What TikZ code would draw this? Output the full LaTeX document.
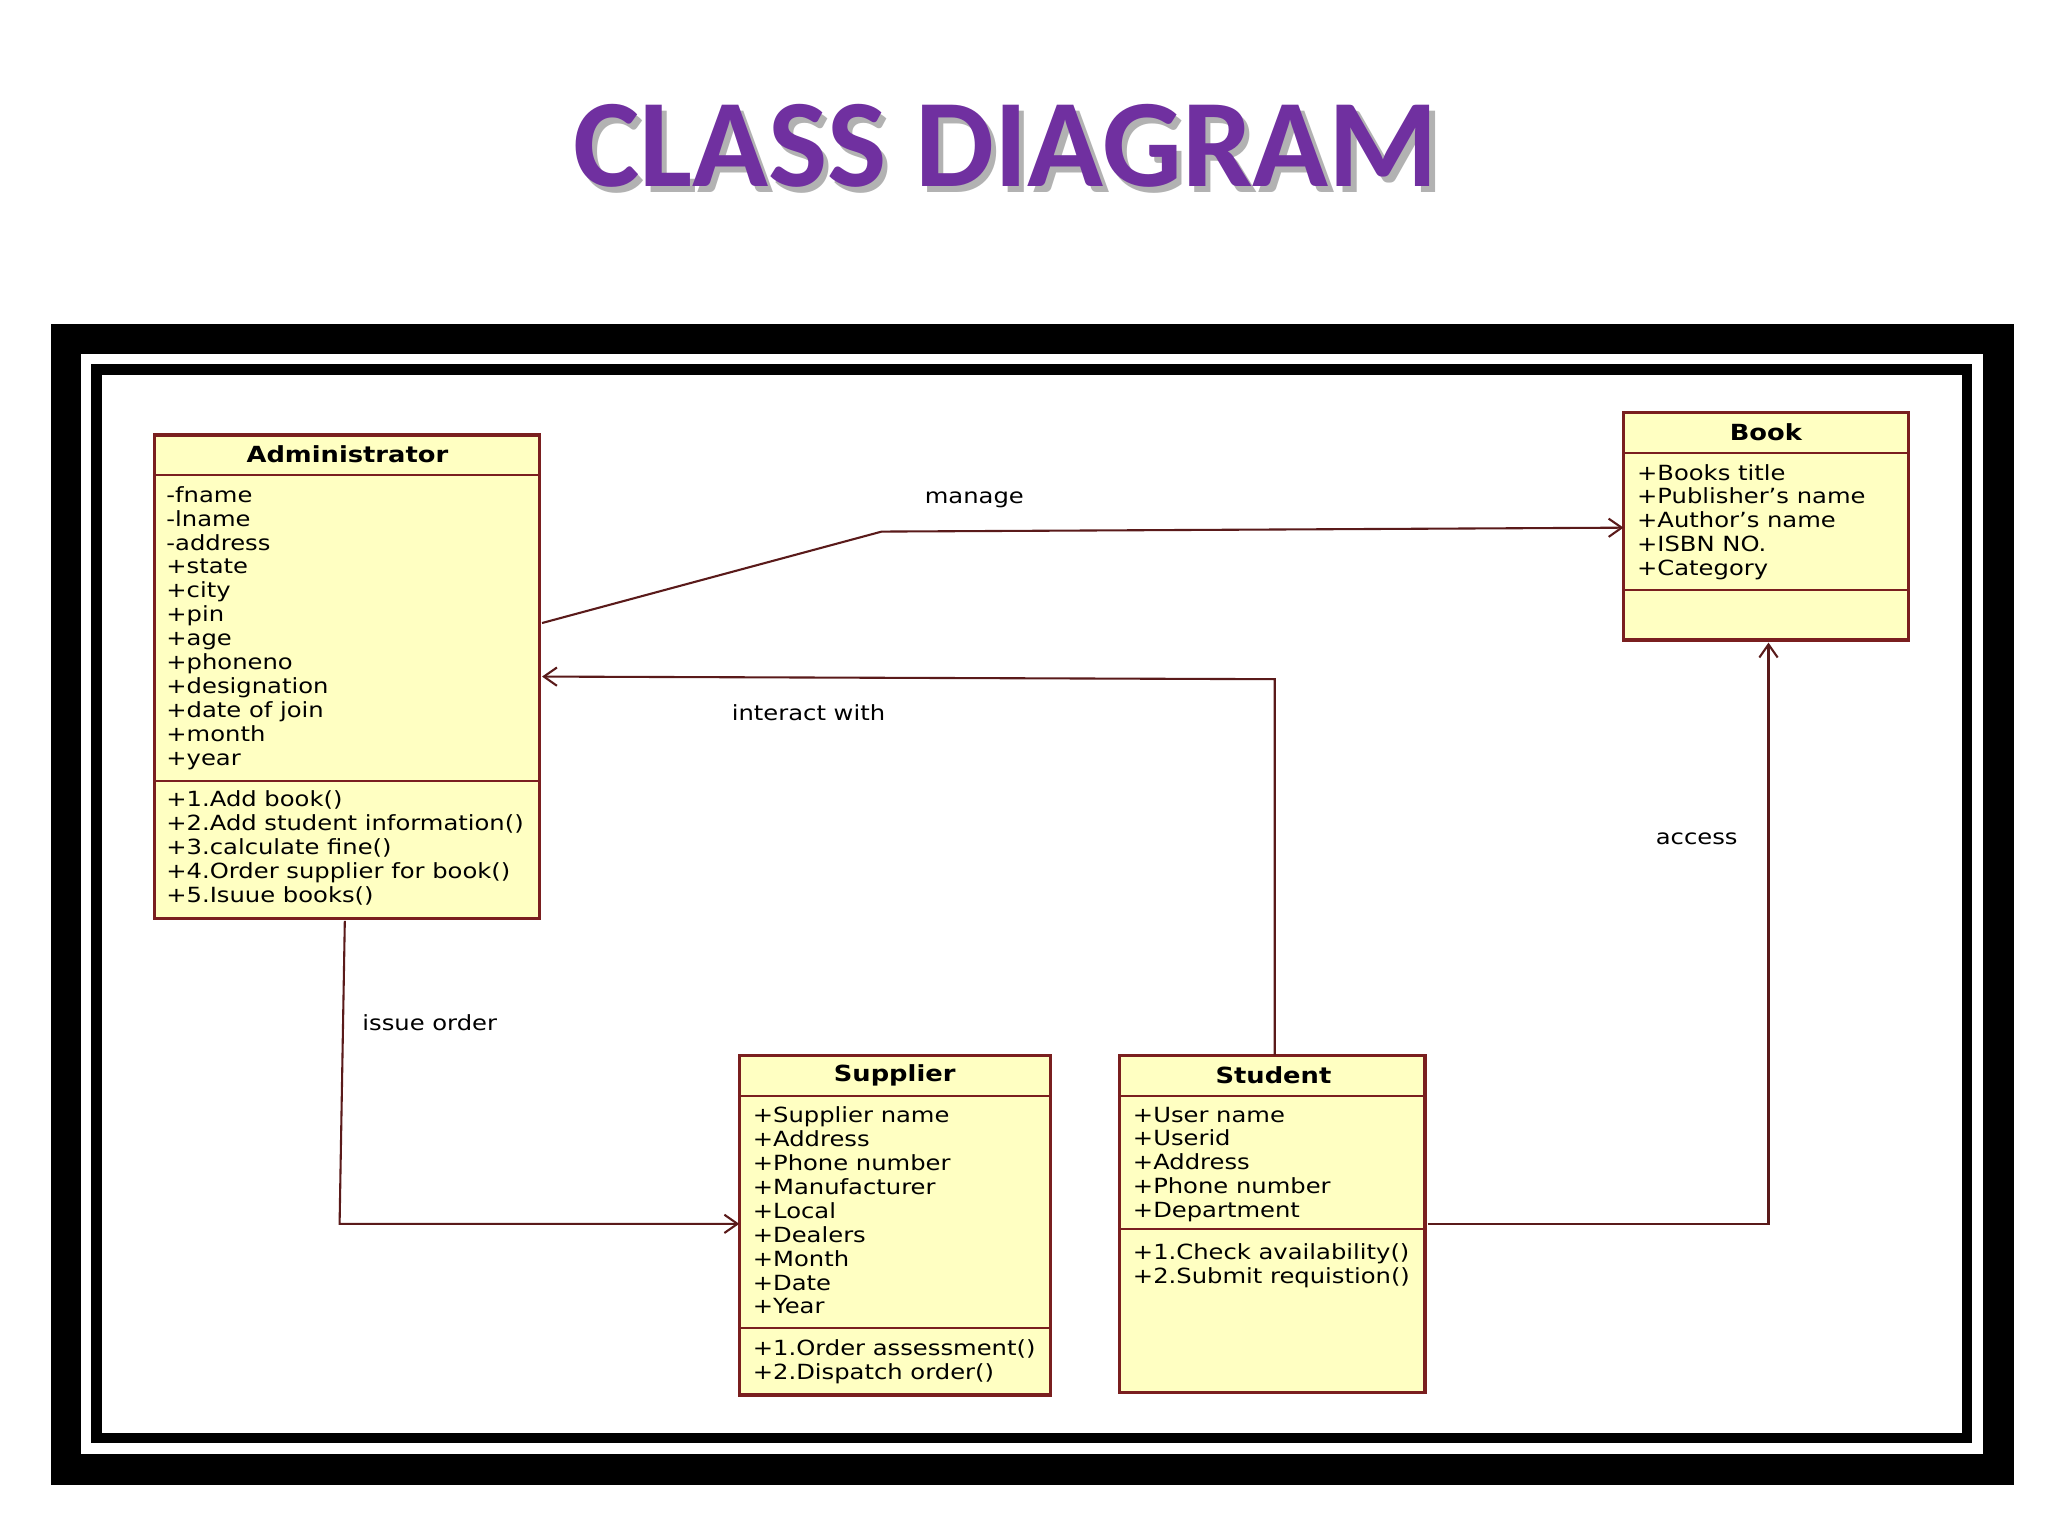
\documentclass[tikz,border=0pt]{standalone}
\usepackage{fontspec}
\setmainfont{DejaVu Sans}[FakeStretch=1.16]
\newfontfamily\titlefont{Carlito}
\usetikzlibrary{arrows.meta}
\definecolor{boxfill}{HTML}{FFFFC2}
\definecolor{boxline}{HTML}{7A1F1F}
\definecolor{conn}{HTML}{5A1A1A}
\definecolor{titlec}{HTML}{7030A0}
\tikzset{
  cls/.style={draw=boxline,fill=boxfill,line width=1.2pt},
  sepline/.style={draw=boxline,line width=0.8pt},
  hdr/.style={font=\fontsize{8.5}{10}\selectfont\bfseries,inner sep=0pt},
  body/.style={anchor=north west,align=left,inner sep=0pt,font=\fontsize{8}{9.15}\selectfont},
  conn/.style={draw=conn,line width=0.8pt},
  arr/.style={conn,-{Straight Barb[length=5pt,width=7pt]}},
  lbl/.style={font=\fontsize{8}{9}\selectfont,inner sep=0pt}
}
\begin{document}
\begin{tikzpicture}[x=0.5pt,y=-0.5pt]
\useasboundingbox (0,0) rectangle (1568,1176);
\fill[white] (0,0) rectangle (1568,1176);
% title
\node[font=\titlefont\bfseries\fontsize{48}{52}\selectfont,text=black!30,inner sep=0pt] at (774,116) {CLASS DIAGRAM};
\node[font=\titlefont\bfseries\fontsize{48}{52}\selectfont,text=titlec,inner sep=0pt] (title) at (770,112) {CLASS DIAGRAM};
% frames
\fill[black] (39,248) rectangle (1542,1137);
\fill[white] (62,271) rectangle (1518,1113);
\fill[black] (70,279) rectangle (1510,1105);
\fill[white] (78,287) rectangle (1502,1097);
% Administrator
\draw[cls] (118,333) rectangle (413,703);
\draw[sepline] (118,364) -- (413,364);
\draw[sepline] (118,598) -- (413,598);
\node[hdr] (admin) at (266,348) {Administrator};
\node[body] (adminA) at (127,372) {-fname\\-lname\\-address\\+state\\+city\\+pin\\+age\\+phoneno\\+designation\\+date of join\\+month\\+year};
\node[body] (adminO) at (127,605) {+1.Add book()\\+2.Add student information()\\+3.calculate fine()\\+4.Order supplier for book()\\+5.Isuue books()};
\coordinate (adminR1) at (415,477);
\coordinate (adminR2) at (415,518);
\coordinate (adminB) at (264,705);
% Book
\draw[cls] (1243,316) rectangle (1461,490);
\draw[sepline] (1243,347) -- (1461,347);
\draw[sepline] (1243,452) -- (1461,452);
\node[hdr] (book) at (1352,331) {Book};
\node[body] (bookA) at (1253,355) {+Books title\\+Publisher's name\\+Author's name\\+ISBN NO.\\+Category};
\coordinate (bookL) at (1243,404);
\coordinate (bookB) at (1354,492);
% Supplier
\draw[cls] (566,808) rectangle (804,1068);
\draw[sepline] (566,839) -- (804,839);
\draw[sepline] (566,1017) -- (804,1017);
\node[hdr] (sup) at (685,823) {Supplier};
\node[body] (supA) at (576,847) {+Supplier name\\+Address\\+Phone number\\+Manufacturer\\+Local\\+Dealers\\+Month\\+Date\\+Year};
\node[body] (supO) at (576,1025) {+1.Order assessment()\\+2.Dispatch order()};
\coordinate (supL) at (566,937);
% Student
\draw[cls] (857,808) rectangle (1091,1066);
\draw[sepline] (857,839) -- (1091,839);
\draw[sepline] (857,941) -- (1091,941);
\node[hdr] (stu) at (975,823) {Student};
\node[body] (stuA) at (867,847) {+User name\\+Userid\\+Address\\+Phone number\\+Department};
\node[body] (stuO) at (867,952) {+1.Check availability()\\+2.Submit requistion()};
\coordinate (stuT) at (976,808);
\coordinate (stuR) at (1093,937);
% connectors
\draw[arr] (adminR1) -- (675,407) -- (bookL);
\draw[arr] (stuT) -- (976,520) -- (adminR2);
\draw[arr] (adminB) -- (260,937) -- (supL);
\draw[arr] (stuR) -- (1354,937) -- (bookB);
% labels
\node[lbl] (l1) at (746,383) {manage};
\node[lbl] (l2) at (619,546) {interact with};
\node[lbl] (l3) at (329,783) {issue order};
\node[lbl] (l4) at (1299,642) {access};
\end{tikzpicture}
\end{document}
